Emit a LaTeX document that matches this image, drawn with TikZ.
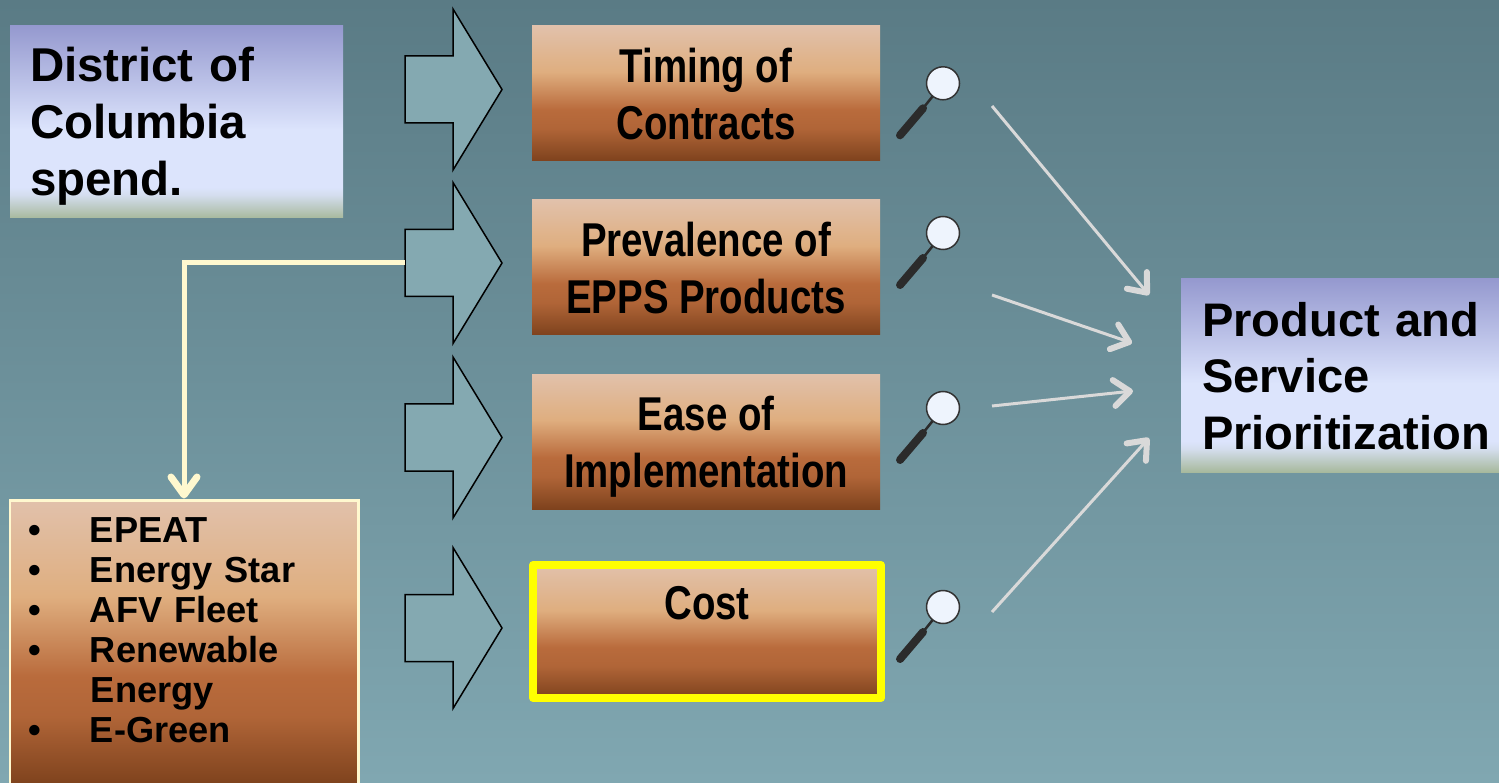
\documentclass[tikz,border=0pt]{standalone}
\usepackage{fontspec}
\setmainfont{Liberation Sans}
\newfontfamily\narrowsans{Liberation Sans}[FakeStretch=0.81]
\usepackage{xcolor}
\usepackage{tikz}
\usetikzlibrary{arrows.meta}
\definecolor{BGtop}{HTML}{5A7B85}
\definecolor{BGbot}{HTML}{80A7B1}
\definecolor{AF}{HTML}{84A9B1}
\definecolor{B1}{HTML}{E1C1AB}
\definecolor{B2}{HTML}{DFAE7F}
\definecolor{B3}{HTML}{B96B3C}
\definecolor{B4}{HTML}{7E421D}
\definecolor{L1}{HTML}{9599CF}
\definecolor{L2}{HTML}{DCE4FC}
\definecolor{L3}{HTML}{A7B99D}
\definecolor{CR}{HTML}{FFF8CF}
\definecolor{PT}{HTML}{D9D9D9}
\definecolor{HD}{HTML}{2B2B2B}
\definecolor{LF}{HTML}{EEF4FD}
\definecolor{YL}{HTML}{FFFF00}
\pgfdeclareverticalshading{brownfill}{100bp}{color(0bp)=(B4); color(25bp)=(B4); color(37bp)=(B3!85!B4); color(44bp)=(B3); color(58bp)=(B2); color(75bp)=(B1); color(100bp)=(B1)}
\pgfdeclareverticalshading{lilacfill}{100bp}{color(0bp)=(L3); color(25bp)=(L3); color(31bp)=(L2!85!L3); color(33bp)=(L2); color(48bp)=(L2); color(60bp)=(L2!55!L1); color(75bp)=(L1); color(100bp)=(L1)}
\tikzset{
  bluebox/.style={shade, shading=lilacfill, inner xsep=0.2cm, inner ysep=0pt, align=left, font=\bfseries\fontsize{13.5}{16.2}\selectfont},
  brownbox/.style={shade, shading=brownfill, minimum width=3.48cm, minimum height=1.35cm, inner sep=0pt, align=center, text depth=0pt, font=\narrowsans\bfseries\fontsize{13.5}{16.2}\selectfont},
  pointer/.style={draw=PT, line width=0.03cm, -{Straight Barb[length=0.16cm,width=0.26cm,line width=0.06cm,round]}},
  feed/.style={draw=CR, line width=0.05cm, -{Straight Barb[length=0.18cm,width=0.26cm,line width=0.07cm,round]}},
  fatarrow/.pic={
    \draw[fill=AF, line width=0.015cm] (0,0.335) -- (0.48,0.335) -- (0.48,0.805) -- (0.97,0) -- (0.48,-0.805) -- (0.48,-0.335) -- (0,-0.335) -- cycle;
    \coordinate (-tail) at (0,0);
  },
  lens/.pic={
    \draw[HD, line width=0.025cm] (0,0) -- (-0.2,-0.25);
    \draw[HD, line width=0.08cm, line cap=round] (-0.2,-0.25) -- (-0.43,-0.52);
    \draw[fill=LF, draw=gray!40!black, line width=0.015cm] (0,0) circle (0.165);
  }
}
\begin{document}
\begin{tikzpicture}%
\useasboundingbox (0,0) rectangle (14.99,7.82);%
\shade[top color=BGtop, bottom color=BGbot] (0,0) rectangle (14.99,7.82);%
% source and target
\node[bluebox, text width=2.93cm, text depth=1.15cm, minimum height=1.92cm] (spend) at (1.765, 6.60) {District of\\Columbia\\spend.};%
\node[bluebox, text width=2.97cm, text depth=1.13cm, minimum height=1.93cm, inner xsep=0.21cm, font=\bfseries\fontsize{13.4}{16.1}\selectfont] (prio) at (13.505, 4.065) {Product and\\Service\\Prioritization};%
% criteria
\node[brownbox] (timing) at (7.06, 6.885) {Timing of\\Contracts};%
\node[brownbox] (prev) at (7.06, 5.145) {Prevalence of\\EPPS Products};%
\node[brownbox] (ease) at (7.06, 3.405) {Ease of\\Implementation};%
\node[brownbox, draw=YL, line width=0.08cm, line join=round, minimum height=1.33cm] (cost) at (7.07, 1.505) {Cost\\~};%
% labels list
\node[brownbox, draw=CR, line width=0.03cm, minimum height=2.85cm, text width=3.12cm, inner xsep=0.18cm, align=left, text depth=2.25cm, font=\bfseries\fontsize{10.3}{11.4}\selectfont] (list) at (1.84, 1.395) {\makebox[0.62cm][l]{\textbullet}EPEAT\\\makebox[0.62cm][l]{\textbullet}Energy Star\\\makebox[0.62cm][l]{\textbullet}AFV Fleet\\\makebox[0.62cm][l]{\textbullet}Renewable\\\hspace*{0.63cm}Energy\\\makebox[0.62cm][l]{\textbullet}E-Green};%
% block arrows
\pic (a1) at (4.05, 6.925) {fatarrow};%
\pic (a2) at (4.05, 5.19) {fatarrow};%
\pic (a3) at (4.05, 3.445) {fatarrow};%
\pic (a4) at (4.05, 1.54) {fatarrow};%
\draw[feed] (a2-tail) -| (list.north);%
% magnifiers
\pic at (9.43, 6.987) {lens};%
\pic at (9.43, 5.49) {lens};%
\pic at (9.43, 3.74) {lens};%
\pic at (9.43, 1.75) {lens};%
% pointers to prioritization
\coordinate (from1) at (9.92, 6.76);%
\coordinate (from2) at (9.92, 4.87);%
\coordinate (from3) at (9.92, 3.76);%
\coordinate (from4) at (9.92, 1.70);%
\coordinate (to1) at (11.49, 4.87);%
\coordinate (to2) at (11.32, 4.39);%
\coordinate (to3) at (11.33, 3.91);%
\coordinate (to4) at (11.49, 3.44);%
\draw[pointer] (from1) -- (to1);%
\draw[pointer] (from2) -- (to2);%
\draw[pointer] (from3) -- (to3);%
\draw[pointer] (from4) -- (to4);%
\end{tikzpicture}
\end{document}
